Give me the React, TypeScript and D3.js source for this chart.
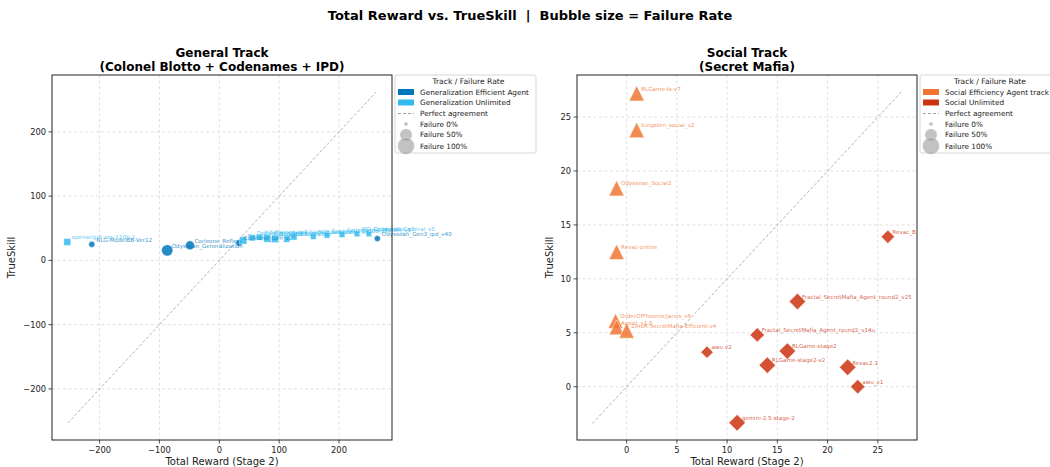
import React from "react";
import * as d3 from "d3";

// ---------- General track data ----------
const generalNames = [
  "RLG-ModelBB-Ver12",
  "Odyssean_Generalization",
  "Corleone_Reflex",
  "Corleone_Gen_v2",
  "Odyssean_Gen3_ipd_v40",
  "openai/gpt-oss-120b-2",
  "BeastRL_General",
  "Deep_Gen_v2",
  "ln3/Aiqingnawa",
  "RLG-Model-2 V7",
  "RLG-Model-2 V7",
  "BOB Subfolder",
  "ln3/Aiqingnawa_v2",
  "BOB Subfolder_v3",
  "Generalist-Blotto-v3",
  "Codenames_Master_v1",
  "IPD_Cooperator_v2",
  "Unlimited_General_v5",
];
const generalReward = [-213, -87, -49, 33, 264, -254, 40, 55, 67, 80, 93, 113, 125, 157, 180, 205, 230, 250];
const generalSkill = [25, 15.6, 23.4, 27, 34, 28.6, 31, 35, 36, 34, 33, 33, 36, 37, 39, 40, 41, 41];
const generalFailure = [0.08, 0.42, 0.24, 0.1, 0.08, 0.12, 0.14, 0.08, 0.07, 0.14, 0.12, 0.08, 0.06, 0.06, 0.06, 0.06, 0.05, 0.05];
const generalTrack = ["eff", "eff", "eff", "eff", "eff", "unl", "unl", "unl", "unl", "unl", "unl", "unl", "unl", "unl", "unl", "unl", "unl", "unl"];

// ---------- Social track data ----------
const socialNames = [
  "RLGame-ts-v7",
  "tungsten_social_v2",
  "Odyssean_Social2",
  "Revac-online",
  "OrderOfPhoenix/jarvis_v6",
  "Agent_v1.0",
  "ZeroR-SecretMafia-Efficient-v4",
  "Fractal_SecretMafia_Agent_round2_v25",
  "Fractal_SecretMafia_Agent_round2_v14u",
  "awu v2",
  "RLGame-stage2",
  "RLGame-stage2-v2",
  "Revac2.1",
  "awu_v1",
  "gemini-2.5-stage-2",
  "Revac_B",
];
const socialReward = [1, 1, -1, -1, -1.1, -1, 0, 17, 13, 8, 16, 14, 22, 23, 11, 26];
const socialSkill = [27.2, 23.8, 18.4, 12.5, 6.1, 5.5, 5.2, 7.9, 4.8, 3.2, 3.3, 2.0, 1.8, 0.0, -3.35, 13.9];
const socialFailure = [0.8, 0.8, 0.8, 0.8, 0.75, 0.75, 0.78, 0.44, 0.32, 0.22, 0.44, 0.44, 0.44, 0.32, 0.44, 0.27];
const socialTrack = ["eff", "eff", "eff", "eff", "eff", "eff", "eff", "unl", "unl", "unl", "unl", "unl", "unl", "unl", "unl", "unl"];

// ---------- ticks / labels ----------
const generalTicks = [-200, -100, 0, 100, 200];
const socialTicks = [0, 5, 10, 15, 20, 25];
const legendFailures = [0, 0.5, 1];
const mainTitle = "Total Reward vs. TrueSkill  |  Bubble size = Failure Rate";

const FONT = "DejaVu Sans, Verdana, sans-serif";
const fmt = (d: number) => (d < 0 ? "\u2212" + Math.abs(d) : String(d));
const radius = (f: number) => Math.sqrt(4 + 68 * f);

type Shape = "circle" | "square" | "triangle" | "diamond";

function markerPath(shape: Shape, r: number): string {
  const p = d3.path();
  if (shape === "circle") {
    p.arc(0, 0, r, 0, Math.PI * 2);
  } else if (shape === "square") {
    p.rect(-r, -r, 2 * r, 2 * r);
  } else if (shape === "triangle") {
    p.moveTo(0, -r);
    p.lineTo(r, r);
    p.lineTo(-r, r);
    p.closePath();
  } else {
    const h = r * Math.SQRT2;
    p.moveTo(0, -h);
    p.lineTo(h, 0);
    p.lineTo(0, h);
    p.lineTo(-h, 0);
    p.closePath();
  }
  return p.toString();
}

interface PanelProps {
  x0: number; x1: number; y0: number; y1: number;
  domain: [number, number];
  lo: number; hi: number;
  ticks: number[];
  names: string[]; rewards: number[]; skills: number[]; failures: number[]; tracks: string[];
  colors: Record<string, string>;
  shapes: Record<string, Shape>;
  titles: string[];
  legendLabels: string[];
  legendX: number; legendW: number;
  ylabelX: number;
}

function Panel(p: PanelProps) {
  const xs = d3.scaleLinear().domain(p.domain).range([p.x0, p.x1]);
  const ys = d3.scaleLinear().domain(p.domain).range([p.y1, p.y0]);
  const order = ["eff", "unl"];
  const idx = d3.range(p.names.length);
  const cx = (p.x0 + p.x1) / 2;
  const cy = (p.y0 + p.y1) / 2;
  const lx = p.legendX;
  const lw = p.legendW;
  const rowY = [92, 102.5, 113.5, 124, 134.8, 146];
  return (
    <g>
      {p.titles.map((t, i) => (
        <text key={i} x={cx} y={56.5 + i * 14} textAnchor="middle" fontFamily={FONT} fontWeight="bold" fontSize={12} fill="#000">{t}</text>
      ))}
      <g clipPath={`url(#clip${p.x0})`}>
        {p.ticks.map((t) => (
          <line key={"gx" + t} x1={xs(t)} x2={xs(t)} y1={p.y0} y2={p.y1} stroke="#d9d9d9" strokeWidth={0.8} strokeDasharray="3,2.5" />
        ))}
        {p.ticks.map((t) => (
          <line key={"gy" + t} x1={p.x0} x2={p.x1} y1={ys(t)} y2={ys(t)} stroke="#d9d9d9" strokeWidth={0.8} strokeDasharray="3,2.5" />
        ))}
        <line x1={xs(p.lo)} y1={ys(p.lo)} x2={xs(p.hi)} y2={ys(p.hi)} stroke="#888" strokeWidth={0.8} strokeDasharray="3,2" opacity={0.8} />
        {order.map((tr) =>
          idx.filter((i) => p.tracks[i] === tr).map((i) => (
            <path key={"m" + i} d={markerPath(p.shapes[tr], radius(p.failures[i]))}
              transform={`translate(${xs(p.rewards[i])},${ys(p.skills[i])})`}
              fill={p.colors[tr]} fillOpacity={0.85} stroke="#fff" strokeWidth={0.5} />
          ))
        )}
      </g>
      {idx.map((i) => (
        <text key={"l" + i} x={xs(p.rewards[i]) + 4.5} y={ys(p.skills[i]) - 2.8} fontFamily={FONT} fontSize={5.6}
          fill={p.colors[p.tracks[i]]} fillOpacity={0.8}>{p.names[i]}</text>
      ))}
      <rect x={p.x0} y={p.y0} width={p.x1 - p.x0} height={p.y1 - p.y0} fill="none" stroke="#222" strokeWidth={1} />
      {p.ticks.map((t) => (
        <g key={"tx" + t}>
          <line x1={xs(t)} x2={xs(t)} y1={p.y1} y2={p.y1 + 3.5} stroke="#222" strokeWidth={0.8} />
          <text x={xs(t)} y={p.y1 + 13} textAnchor="middle" fontFamily={FONT} fontSize={8.3} fill="#222">{fmt(t)}</text>
        </g>
      ))}
      {p.ticks.map((t) => (
        <g key={"ty" + t}>
          <line x1={p.x0 - 3.5} x2={p.x0} y1={ys(t)} y2={ys(t)} stroke="#222" strokeWidth={0.8} />
          <text x={p.x0 - 6} y={ys(t) + 3} textAnchor="end" fontFamily={FONT} fontSize={8.3} fill="#222">{fmt(t)}</text>
        </g>
      ))}
      <text x={cx} y={465} textAnchor="middle" fontFamily={FONT} fontSize={10} fill="#222">Total Reward (Stage 2)</text>
      <text transform={`translate(${p.ylabelX},${cy}) rotate(-90)`} textAnchor="middle" fontFamily={FONT} fontSize={10} fill="#222">TrueSkill</text>
      <g>
        <rect x={lx} y={75} width={lw} height={78} rx={2} fill="#fff" fillOpacity={0.9} stroke="#ccc" strokeWidth={0.8} />
        <text x={lx + lw / 2 + 3} y={84} textAnchor="middle" fontFamily={FONT} fontSize={7.6} fill="#222">Track / Failure Rate</text>
        {order.map((tr, k) => (
          <g key={"lg" + tr}>
            <rect x={lx + 3} y={rowY[k] - 3} width={16} height={6} fill={p.colors[tr]} />
            <text x={lx + 25} y={rowY[k] + 2.6} fontFamily={FONT} fontSize={7.3} fill="#222">{p.legendLabels[k]}</text>
          </g>
        ))}
        <line x1={lx + 3} x2={lx + 19} y1={rowY[2]} y2={rowY[2]} stroke="#888" strokeWidth={0.8} strokeDasharray="3,2" />
        <text x={lx + 25} y={rowY[2] + 2.6} fontFamily={FONT} fontSize={7.3} fill="#222">Perfect agreement</text>
        {legendFailures.map((f, k) => (
          <g key={"lf" + k}>
            <circle cx={lx + 11} cy={rowY[3 + k]} r={radius(f)} fill="#999" fillOpacity={0.6} stroke="#fff" strokeWidth={0.4} />
            <text x={lx + 25} y={rowY[3 + k] + 2.6} fontFamily={FONT} fontSize={7.3} fill="#222">{`Failure ${Math.round(f * 100)}%`}</text>
          </g>
        ))}
      </g>
    </g>
  );
}

export default function App() {
  return (
    <svg width={1050} height={467} viewBox="0 0 1050 467" style={{ position: "absolute", left: 0, top: 0, background: "#fff" }}>
      <defs>
        <clipPath id="clip52"><rect x={52} y={75} width={340} height={365} /></clipPath>
        <clipPath id="clip577"><rect x={577} y={75} width={340} height={365} /></clipPath>
      </defs>
      <rect x={0} y={0} width={1050} height={467} fill="#fff" />
      <text x={530} y={20} textAnchor="middle" fontFamily={FONT} fontWeight="bold" fontSize={13} fill="#000" style={{ whiteSpace: "pre" }}>{mainTitle}</text>
      <Panel
        x0={52} x1={392} y0={75} y1={440}
        domain={[-279.5, 288.5]} lo={-253} hi={262}
        ticks={generalTicks}
        names={generalNames} rewards={generalReward} skills={generalSkill} failures={generalFailure} tracks={generalTrack}
        colors={{ eff: "#0077BB", unl: "#33BBEE" }}
        shapes={{ eff: "circle", unl: "square" }}
        titles={["General Track", "(Colonel Blotto + Codenames + IPD)"]}
        legendLabels={["Generalization Efficient Agent", "Generalization Unlimited"]}
        legendX={395} legendW={141}
        ylabelX={15}
      />
      <Panel
        x0={577} x1={917} y0={75} y1={440}
        domain={[-4.94, 28.9]} lo={-3.4} hi={27.4}
        ticks={socialTicks}
        names={socialNames} rewards={socialReward} skills={socialSkill} failures={socialFailure} tracks={socialTrack}
        colors={{ eff: "#EE7733", unl: "#CC3311" }}
        shapes={{ eff: "triangle", unl: "diamond" }}
        titles={["Social Track", "(Secret Mafia)"]}
        legendLabels={["Social Efficiency Agent track", "Social Unlimited"]}
        legendX={920} legendW={134}
        ylabelX={553}
      />
    </svg>
  );
}
